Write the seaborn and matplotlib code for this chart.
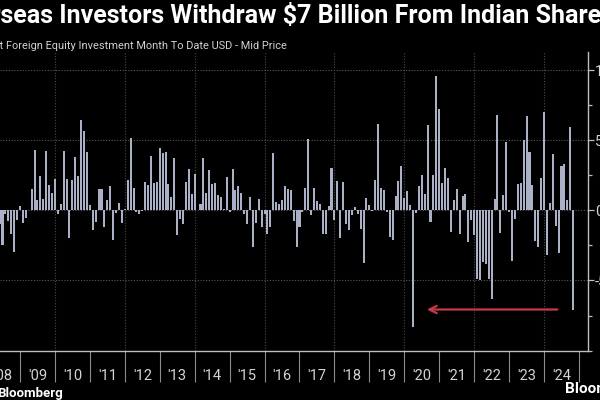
import pandas as pd
import matplotlib
matplotlib.use("Agg")
import matplotlib.pyplot as plt
import seaborn as sns
from matplotlib.ticker import FixedLocator, NullFormatter, FixedFormatter

# Net foreign equity investment in Indian shares, USD bn per month
flows_2008 = [-0.95, -2.45, -0.24, -0.76, -1.67, -2.98, -0.67, 0.29]  # May - Dec
flows_2009 = [-0.9, -0.52, 0.05, 1.55, 4.29, 0.71, 2.43, 0.83, 4.21, 1.79, 1.24, 2.26]
flows_2010 = [-0.24, 0.48, 4.21, 2.26, -1.98, 2.14, 3.81, 2.43, 6.43, 5.64, 4.17, 0.36]
flows_2011 = [-1.38, -0.83, 1.55, 1.55, -1.19, 0.71, 1.71, -2.1, -0.19, 0.52, -0.9, 0.08]
flows_2012 = [2.19, 5.17, 1.6, -0.12, -0.24, -0.05, 2.02, 1.79, 3.88, 1.98, 2.02, 4.48]
flows_2013 = [4.12, 4.17, 1.9, 0.95, 3.76, -1.79, -0.6, -0.95, 2.0, 2.93, 1.14, 2.57]
flows_2014 = [0.05, 0.48, 3.76, 1.24, 2.86, 1.86, 1.98, 1.12, 0.95, 0.12, 2.38, -0.12]
flows_2015 = [2.93, 1.48, 1.71, 1.24, -0.24, -0.95, 0.95, -2.62, -0.9, 0.83, -1.19, -0.24]
flows_2016 = [-1.71, -1.19, 4.1, 0.6, 0.43, 0.76, 1.71, 1.5, 1.43, -0.76, -2.62, -1.19]
flows_2017 = [-0.1, 1.62, 5.12, -0.36, 1.6, 0.64, 0.43, -1.67, -1.67, 0.31, 3.02, -0.71]
flows_2018 = [2.07, -1.98, 2.02, -0.95, -1.43, -0.36, 0.24, -0.24, -1.31, -3.76, 0.9, 0.4]
flows_2019 = [-0.05, 2.19, 6.19, 1.6, 1.43, -0.1, -1.9, -2.14, 1.0, 2.07, 3.14, 0.9]
flows_2020 = [1.36, 0.4, -8.33, -0.15, 1.71, 2.5, 1.19, 6.12, -0.83, 2.55, 9.6, 7.26]
flows_2021 = [1.98, 3.02, 2.33, -1.55, 0.71, 1.5, -1.71, 1.02, 1.14, -2.26, -0.71, -1.79]
flows_2022 = [-4.88, -5.0, -3.69, -3.81, -4.88, -6.31, 0.83, 6.79, -1.62, 1.07, 4.9, -0.1]
flows_2023 = [-3.64, -0.6, 1.86, 1.95, 5.0, 6.74, 4.17, 1.79, -2.21, -2.62, 2.33, 7.05]
flows_2024 = [-3.17, 0.52, 4.05, -1.12, -3.05, 3.14, 3.33, 0.76, 5.95, -7.14]  # Oct month to date

first_year, first_month = 2008, 5
year_labels = ["'08", "'09", "'10", "'11", "'12", "'13", "'14", "'15", "'16",
               "'17", "'18", "'19", "'20", "'21", "'22", "'23", "'24"]

title = "Overseas Investors Withdraw $7 Billion From Indian Shares"
subtitle = "Net Foreign Equity Investment Month To Date USD - Mid Price"

values = (flows_2008 + flows_2009 + flows_2010 + flows_2011 + flows_2012 + flows_2013
          + flows_2014 + flows_2015 + flows_2016 + flows_2017 + flows_2018 + flows_2019
          + flows_2020 + flows_2021 + flows_2022 + flows_2023 + flows_2024)

# bars sit at month end, as decimal years
rows = []
for i, v in enumerate(values):
    idx = first_month - 1 + i
    year, month = first_year + idx // 12, idx % 12 + 1
    rows.append({"t": year + month / 12.0, "flow": v})
df = pd.DataFrame(rows)

sns.set_theme(style="dark", rc={
    "axes.facecolor": "black",
    "figure.facecolor": "black",
    "savefig.facecolor": "black",
    "text.color": "white",
    "axes.edgecolor": "#bdbdbd",
    "xtick.color": "#8c8c8c",
    "ytick.color": "#bdbdbd",
    "xtick.labelcolor": "#d4d4d4",
    "ytick.labelcolor": "#d4d4d4",
    "axes.unicode_minus": False,
})
plt.rcParams["font.family"] = ["Roboto", "DejaVu Sans"]

W, H = 600, 400
fig = plt.figure(figsize=(6, 4), dpi=100)
ax = fig.add_axes([0, 1 - 351 / H, 588 / W, (351 - 52) / H])

sns.barplot(data=df, x="t", y="flow", native_scale=True, color="#aab0c6",
            saturation=1, width=0.7, edgecolor="none", linewidth=0, ax=ax)

ax.set_xlim(2008.428, 2025.258)
ax.set_ylim(-10.03, 11.3)
ax.set_xlabel("")
ax.set_ylabel("")

for s in ["top", "left"]:
    ax.spines[s].set_visible(False)
ax.spines["right"].set_linewidth(1.0)
ax.spines["bottom"].set_linewidth(1.0)

# y axis on the right
ax.yaxis.tick_right()
ax.yaxis.set_major_locator(FixedLocator([-5, 0, 5, 10]))
ax.yaxis.set_minor_locator(FixedLocator([-10, -7.5, -2.5, 2.5, 7.5]))
ax.tick_params(axis="y", which="major", length=4, width=0.9, pad=1, labelsize=10.5)
ax.tick_params(axis="y", which="minor", length=3, width=0.9, right=True)
ax.grid(axis="y", which="major", color="#5a5a5a", linestyle=(0, (1, 1.5)), linewidth=0.8)

# x axis: long separators at year starts, labels centred in each year
years = list(range(2008, 2008 + len(year_labels)))
ax.xaxis.set_major_locator(FixedLocator(years[1:] + [years[-1] + 1]))
ax.xaxis.set_major_formatter(NullFormatter())
ax.xaxis.set_minor_locator(FixedLocator([y + 0.5 for y in years]))
ax.xaxis.set_minor_formatter(FixedFormatter(year_labels))
ax.tick_params(axis="x", which="major", length=22, width=0.8, direction="out", bottom=True)
ax.tick_params(axis="x", which="minor", length=0, pad=13, labelsize=10.5, bottom=True)
for y in years:
    if y % 2 == 0 and y > 2008:
        ax.axvline(y, color="#4a4a4a", linestyle=(0, (1, 1.5)), linewidth=0.8, zorder=0)

# red arrow pointing back at March 2020
ax.annotate("", xy=(2020.57, -7.07), xytext=(2024.46, -7.07),
            arrowprops=dict(arrowstyle="->", color="#c8394c", lw=1.6, mutation_scale=13))

# cropped title and subtitle
renderer = fig.canvas.get_renderer()


def cropped_text(full, hidden, span_px, y_px, **kw):
    probe = fig.text(0, 0, full[len(hidden):], fontsize=10, **kw)
    w = probe.get_window_extent(renderer).width
    probe.remove()
    size = 10 * span_px / w
    probe = fig.text(0, 0, hidden, fontsize=size, **kw)
    off = probe.get_window_extent(renderer).width
    probe.remove()
    fig.text(-off / W, 1 - y_px / H, full, fontsize=size, ha="left", va="center", **kw)


cropped_text(title, "Over", 614, 16, fontweight="bold", color="white")
cropped_text(subtitle, "Ne", 287, 46, color="#d0d0d0")

fig.text(-0.004, 1 - 393 / H, "Bloomberg", fontsize=9.5, fontweight="bold",
         color="white", ha="left", va="center")
fig.text(565 / W, 1 - 389 / H, "Bloomberg", fontsize=11, fontweight="bold",
         color="white", ha="left", va="center")

fig.savefig("out.png", dpi=100)
